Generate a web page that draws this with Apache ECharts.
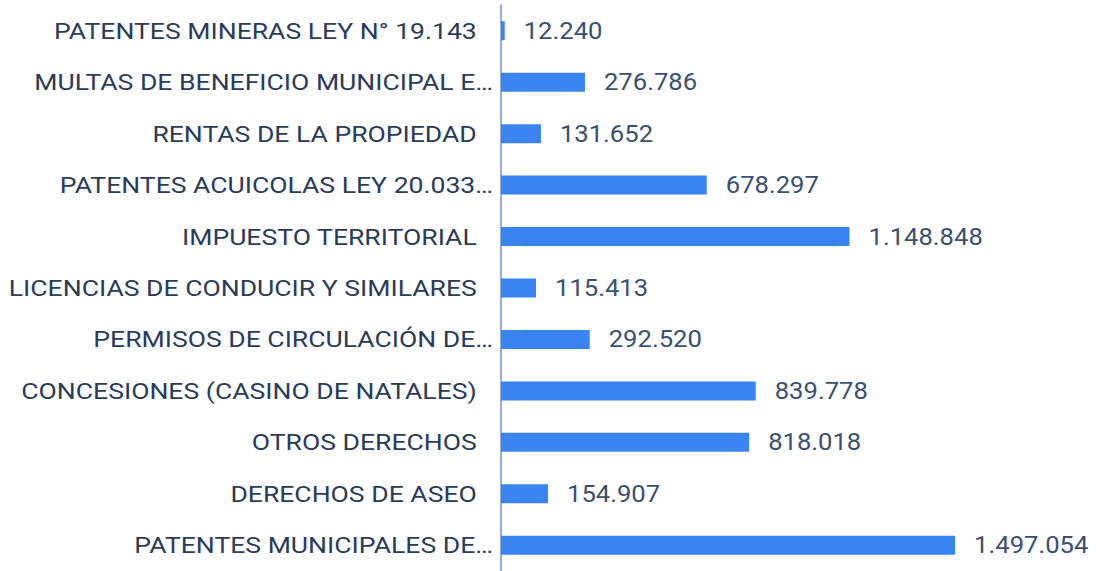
<!DOCTYPE html>
<html>
<head>
<meta charset="utf-8">
<script src="https://cdn.jsdelivr.net/npm/echarts@6/dist/echarts.min.js"></script>
<style>
  html, body { margin: 0; padding: 0; background: #fff; }
  #chart { width: 1096px; height: 571px; }
</style>
</head>
<body>
<div id="chart"></div>
<script>
const categories = [
  'PATENTES MINERAS LEY N° 19.143',
  'MULTAS DE BENEFICIO MUNICIPAL E…',
  'RENTAS DE LA PROPIEDAD',
  'PATENTES ACUICOLAS LEY 20.033…',
  'IMPUESTO TERRITORIAL',
  'LICENCIAS DE CONDUCIR Y SIMILARES',
  'PERMISOS DE CIRCULACIÓN DE…',
  'CONCESIONES (CASINO DE NATALES)',
  'OTROS DERECHOS',
  'DERECHOS DE ASEO',
  'PATENTES MUNICIPALES DE…'
]
const values = [12240, 276786, 131652, 678297, 1148848, 115413, 292520, 839778, 818018, 154907, 1497054]

function fmt(n) {
  return String(n).replace(/\B(?=(\d{3})+(?!\d))/g, '.')
}

const chart = echarts.init(document.getElementById('chart'), null, { renderer: 'svg' })
chart.setOption({
  animation: false,
  // the last band runs a little past the bottom edge in the reference
  grid: { left: 501, top: 5, width: 546, bottom: -5 },
  xAxis: {
    type: 'value',
    min: 0,
    max: 1800000,
    show: false
  },
  yAxis: {
    type: 'category',
    inverse: true,
    data: categories,
    axisLine: { show: true, lineStyle: { color: '#6f92d2', width: 1.5 } },
    axisTick: { show: false },
    axisLabel: {
      margin: 8,
      fontFamily: 'Roboto',
      fontSize: 22.5,
      color: '#2a3c5a',
      // untruncated names sit a bit further from the axis than the "…" ones
      formatter: v => v.endsWith('…') ? v : v + '\u2002\u200A'
    }
  },
  series: [
    {
      type: 'bar',
      data: values,
      barWidth: 19,
      itemStyle: { color: '#3a84f2' },
      label: {
        show: true,
        position: 'right',
        distance: 19,
        fontFamily: 'Roboto',
        fontSize: 23.5,
        color: '#3a5072',
        formatter: p => fmt(p.value)
      }
    }
  ]
})

// the reference text is drawn wider than plain Roboto: stretch the glyphs
function stretch() {
  document.querySelectorAll('#chart svg text').forEach(t => {
    if (!t.dataset.base) {
      const w = t.getComputedTextLength()
      if (!w) return
      t.dataset.base = w
    }
    const s = t.getAttribute('text-anchor') === 'end' ? 1.18 : 1.09
    t.setAttribute('textLength', (t.dataset.base * s).toFixed(1))
    t.setAttribute('lengthAdjust', 'spacingAndGlyphs')
  })
}
chart.on('finished', () => setTimeout(stretch, 0))
requestAnimationFrame(() => requestAnimationFrame(stretch))
setTimeout(stretch, 50)
setTimeout(stretch, 300)
</script>
</body>
</html>
